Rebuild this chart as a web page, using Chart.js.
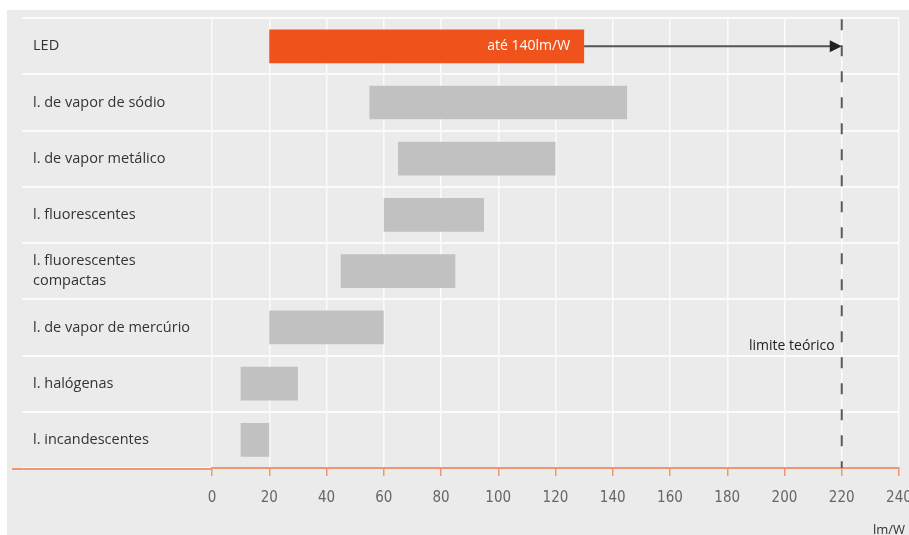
<!DOCTYPE html>
<html>
<head>
<meta charset="utf-8">
<script src="https://cdn.jsdelivr.net/npm/chart.js@4.4.1/dist/chart.umd.min.js"></script>
<style>
    html, body { margin: 0; padding: 0; background: #fff; }
    #wrap { width: 909px; height: 535px; }
</style>
</head>
<body>
<div id="wrap"><canvas id="lampChart"></canvas></div>
<script>
// eficiência luminosa (lm/W) - faixa mínima / máxima por tipo de lâmpada
const categories = [
    'LED',
    'l. de vapor de sódio',
    'l. de vapor metálico',
    'l. fluorescentes',
    ['l. fluorescentes', 'compactas'],
    'l. de vapor de mercúrio',
    'l. halógenas',
    'l. incandescentes'
];
const minValues = [20, 55, 65, 60, 45, 20, 10, 10];
const maxValues = [130, 145, 120, 95, 85, 60, 30, 20];
const xTicks = [0, 20, 40, 60, 80, 100, 120, 140, 160, 180, 200, 220, 240];
const limitValue = 220;
const ledLabel = 'até 140lm/W';
const limitLabel = 'limite teórico';
const unitLabel = 'lm/W';

const ORANGE = '#f0521c';
const GRAY_BAR = '#c1c1c1';
const BG = '#ebebeb';
const AXIS_ORANGE = '#f29572';

const ranges = minValues.map((v, i) => [v, maxValues[i]]);

// fundo cinza
const bgPlugin = {
    id: 'bg',
    beforeDraw(chart) {
        const ctx = chart.ctx;
        ctx.save();
        ctx.fillStyle = BG;
        ctx.fillRect(7, 10, chart.width - 7, chart.height - 10);
        ctx.restore();
    }
};

// seta do LED, linha do limite teórico e textos
const notesPlugin = {
    id: 'notes',
    afterDatasetsDraw(chart) {
        const ctx = chart.ctx;
        const x = chart.scales.x;
        const y = chart.scales.y;
        const area = chart.chartArea;
        const rowH = (area.bottom - area.top) / categories.length;
        const xLimit = x.getPixelForValue(limitValue);
        const xLedEnd = x.getPixelForValue(maxValues[0]);
        const yLed = y.getPixelForValue(0);

        ctx.save();
        // eixo laranja prolongado à esquerda
        ctx.strokeStyle = AXIS_ORANGE;
        ctx.lineWidth = 2;
        ctx.beginPath();
        ctx.moveTo(12, area.bottom + 1);
        ctx.lineTo(area.left, area.bottom + 1);
        ctx.stroke();

        // linha tracejada
        ctx.strokeStyle = '#5a5a5a';
        ctx.lineWidth = 2;
        ctx.setLineDash([11, 15]);
        ctx.beginPath();
        ctx.moveTo(xLimit, area.top + 1);
        ctx.lineTo(xLimit, area.bottom);
        ctx.stroke();
        ctx.setLineDash([]);

        // seta
        ctx.strokeStyle = '#555';
        ctx.lineWidth = 2;
        ctx.beginPath();
        ctx.moveTo(xLedEnd, yLed);
        ctx.lineTo(xLimit - 10, yLed);
        ctx.stroke();
        ctx.fillStyle = '#222';
        ctx.beginPath();
        ctx.moveTo(xLimit, yLed);
        ctx.lineTo(xLimit - 12, yLed - 6);
        ctx.lineTo(xLimit - 12, yLed + 6);
        ctx.closePath();
        ctx.fill();

        // textos
        ctx.font = '14px "Open Sans", sans-serif';
        ctx.textBaseline = 'middle';
        ctx.textAlign = 'right';
        ctx.fillStyle = '#fff';
        ctx.fillText(ledLabel, xLedEnd - 14, yLed);

        ctx.fillStyle = '#222';
        ctx.fillText(limitLabel, xLimit - 7, y.getPixelForValue(5) + rowH * 0.33);

        ctx.font = '13px "Open Sans", sans-serif';
        ctx.textAlign = 'left';
        ctx.fillStyle = '#333';
        ctx.fillText(unitLabel, area.right - 26, chart.height - 5);
        ctx.restore();
    }
};

new Chart(document.getElementById('lampChart'), {
    type: 'bar',
    data: {
        labels: categories,
        datasets: [{
            data: ranges,
            backgroundColor: ranges.map((r, i) => i === 0 ? ORANGE : GRAY_BAR),
            borderWidth: 0,
            borderSkipped: false,
            barPercentage: 0.6,
            categoryPercentage: 1
        }]
    },
    options: {
        indexAxis: 'y',
        responsive: true,
        maintainAspectRatio: false,
        animation: false,
        layout: {
            padding: { left: 33, top: 14, right: 10, bottom: 0 }
        },
        plugins: {
            legend: { display: false },
            tooltip: { enabled: false }
        },
        scales: {
            x: {
                type: 'linear',
                min: 0,
                max: 240,
                afterBuildTicks: (scale) => {
                    scale.ticks = xTicks.map(v => ({ value: v }));
                },
                afterFit: (scale) => {
                    scale.height = 67;
                    scale.paddingLeft = 0;
                    scale.paddingRight = 0;
                },
                grid: {
                    color: '#fbfbfb',
                    lineWidth: 1.5,
                    tickColor: AXIS_ORANGE,
                    tickLength: 8
                },
                border: {
                    color: AXIS_ORANGE,
                    width: 2
                },
                ticks: {
                    color: '#666',
                    padding: 13,
                    maxRotation: 0,
                    font: { family: '"Liberation Sans Narrow", "DejaVu Sans Condensed", sans-serif', size: 15 }
                }
            },
            y: {
                afterFit: (scale) => {
                    scale.width = 179;
                },
                grid: {
                    offset: true,
                    color: '#fbfbfb',
                    lineWidth: 2,
                    tickColor: '#fbfbfb',
                    tickLength: 190
                },
                border: { display: false },
                ticks: {
                    crossAlign: 'far',
                    color: '#333',
                    padding: 8,
                    font: { family: '"Open Sans", sans-serif', size: 14.5, lineHeight: 1.4 }
                }
            }
        }
    },
    plugins: [bgPlugin, notesPlugin]
});
</script>
</body>
</html>
